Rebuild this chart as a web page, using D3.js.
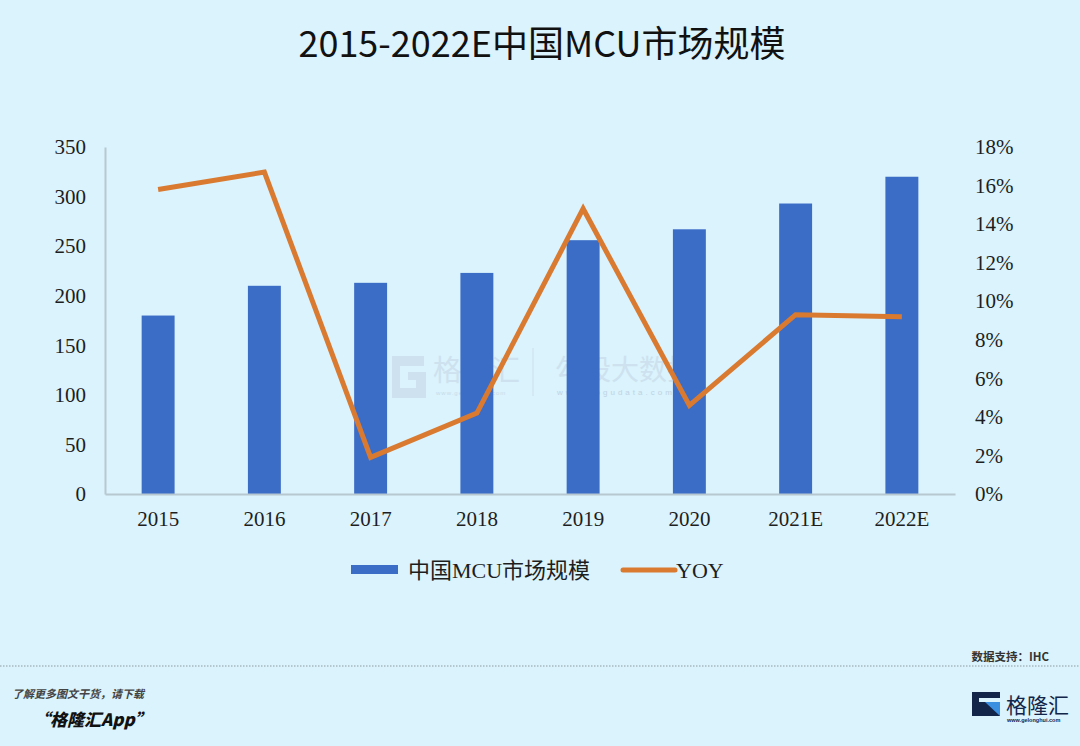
<!DOCTYPE html>
<html><head><meta charset="utf-8">
<script src="https://cdn.jsdelivr.net/npm/d3@7"></script>
<style>body{margin:0;background:#daf3fd;} svg{display:block}</style>
</head><body><svg id="c" width="1080" height="746"></svg>
<script>
const categories = ["2015","2016","2017","2018","2019","2020","2021E","2022E"];
const marketSize = [180,210,213,223,256,267,293,320];
const yoy = [15.8,16.7,1.9,4.2,14.8,4.6,9.3,9.2];
const leftTicks = [0,50,100,150,200,250,300,350];
const rightTicks = [0,2,4,6,8,10,12,14,16,18];
const titleText = "2015-2022E中国MCU市场规模";
const legendLabels = ["中国MCU市场规模","YOY"];

const svg = d3.select("#c");
const W = 1080, H = 746;
const BAR = "#3b6cc6", LINE = "#d97a30", AXIS = "#b7c8d1", TXT = "#1e1e1e";
const serif = "'Liberation Serif','Noto Sans CJK SC',serif";

svg.append("rect").attr("width",W).attr("height",H).attr("fill","#daf3fd");

const x = d3.scaleBand().domain(categories).range([105,955]).paddingInner(0.69).paddingOuter(0.345);
const yL = d3.scaleLinear().domain([0,350]).range([494,147]);
const yR = d3.scaleLinear().domain([0,18]).range([494,147]);

// title
svg.append("text").attr("x",542).attr("y",57).attr("text-anchor","middle")
  .attr("font-family","'Noto Sans CJK SC',sans-serif").attr("font-size",36).attr("font-weight",400)
  .attr("fill","#111").text(titleText);

// watermark
const wm = svg.append("g").attr("opacity",0.55);
wm.append("path").attr("d","M392,356 h32 v10 h-24 v22 h16 v-8 h-8 v-8 h18 v26 h-34 z")
  .attr("fill","#c4d4e2");
wm.append("text").attr("x",433).attr("y",381).attr("font-family","'Noto Sans CJK SC'")
  .attr("font-size",29).attr("fill","#c4d4e2").text("格隆汇");
wm.append("text").attr("x",436).attr("y",395).attr("font-family","sans-serif")
  .attr("font-size",6).attr("fill","#b8c8d8").attr("letter-spacing",1).text("www.gelonghui.com");
wm.append("line").attr("x1",533).attr("x2",533).attr("y1",348).attr("y2",396).attr("stroke","#c4d4e2").attr("stroke-width",1);
wm.append("text").attr("x",555).attr("y",380).attr("font-family","'Noto Sans CJK SC'")
  .attr("font-size",28).attr("fill","#c4d4e2").text("勾股大数据");
wm.append("text").attr("x",557).attr("y",395).attr("font-family","sans-serif")
  .attr("font-size",8).attr("fill","#a9b9cc").attr("letter-spacing",3).text("www.gogudata.com");

// bars
svg.append("g").selectAll("rect").data(categories).join("rect")
  .attr("x",d=>x(d)).attr("width",x.bandwidth())
  .attr("y",(d,i)=>yL(marketSize[i])).attr("height",(d,i)=>yL(0)-yL(marketSize[i]))
  .attr("fill",BAR);

// axes
const gL = svg.append("g").attr("transform","translate(105,0)")
  .call(d3.axisLeft(yL).tickValues(leftTicks).tickSize(0).tickPadding(19).tickFormat(d3.format("d")));
gL.select(".domain").attr("stroke",AXIS).attr("stroke-width",2);
const gR = svg.append("g").attr("transform","translate(955,0)")
  .call(d3.axisRight(yR).tickValues(rightTicks).tickSize(0).tickPadding(20).tickFormat(d=>d+"%"));
gR.select(".domain").remove();
const gB = svg.append("g").attr("transform","translate(0,494)")
  .call(d3.axisBottom(x).tickSize(0).tickPadding(17));
gB.select(".domain").attr("stroke",AXIS).attr("stroke-width",2);
[gL,gR,gB].forEach(g=>g.selectAll("text").attr("font-family",serif).attr("font-size",21).attr("fill",TXT));

// line
const line = d3.line().x((d,i)=>x(categories[i])+x.bandwidth()/2).y(d=>yR(d));
svg.append("path").datum(yoy).attr("d",line).attr("fill","none")
  .attr("stroke",LINE).attr("stroke-width",5).attr("stroke-linejoin","miter");

// legend
const lg = svg.append("g");
lg.append("rect").attr("x",351).attr("y",565).attr("width",47).attr("height",9).attr("fill",BAR);
lg.append("text").attr("x",408).attr("y",578).attr("font-family",serif).attr("font-size",22)
  .attr("fill",TXT).text(legendLabels[0]);
lg.append("line").attr("x1",623).attr("x2",675).attr("y1",570).attr("y2",570)
  .attr("stroke",LINE).attr("stroke-width",5).attr("stroke-linecap","round");
lg.append("text").attr("x",676).attr("y",578).attr("font-family",serif).attr("font-size",22)
  .attr("fill",TXT).text(legendLabels[1]);

// footer
svg.append("text").attr("x",1049).attr("y",661).attr("text-anchor","end")
  .attr("font-family","'Noto Sans CJK SC'").attr("font-size",11.5).attr("font-weight",700)
  .attr("fill","#333").text("数据支持：IHC");
svg.append("line").attr("x1",0).attr("x2",1080).attr("y1",666).attr("y2",666)
  .attr("stroke","#8f9aa0").attr("stroke-width",1).attr("stroke-dasharray","1.5,1.5");
svg.append("text").attr("x",12).attr("y",698).attr("font-family","'Noto Sans CJK SC'")
  .attr("font-size",11).attr("font-weight",700).attr("font-style","italic")
  .attr("fill","#444").text("了解更多图文干货，请下载");
svg.append("text").attr("x",33).attr("y",726).attr("font-family","'Noto Sans CJK SC'")
  .attr("font-size",17).attr("font-weight",900).attr("font-style","italic")
  .attr("fill","#111").text("“格隆汇App”");

// logo bottom right
const lo = svg.append("g");
lo.append("path").attr("d","M972,692 h28 v24 h-28 z").attr("fill","#14254a");
lo.append("path").attr("d","M985,702 h15 v14 z").attr("fill","#3a8fe0");
lo.append("path").attr("d","M979,698 h21 v4 h-21 z").attr("fill","#daf3fd");
lo.append("text").attr("x",1006).attr("y",713).attr("font-family","'Noto Sans CJK SC'")
  .attr("font-size",21).attr("fill","#14254a").text("格隆汇");
lo.append("text").attr("x",1007).attr("y",722).attr("font-family","sans-serif")
  .attr("font-size",5.5).attr("font-weight",700).attr("fill","#14254a").text("www.gelonghui.com");
</script></body></html>
